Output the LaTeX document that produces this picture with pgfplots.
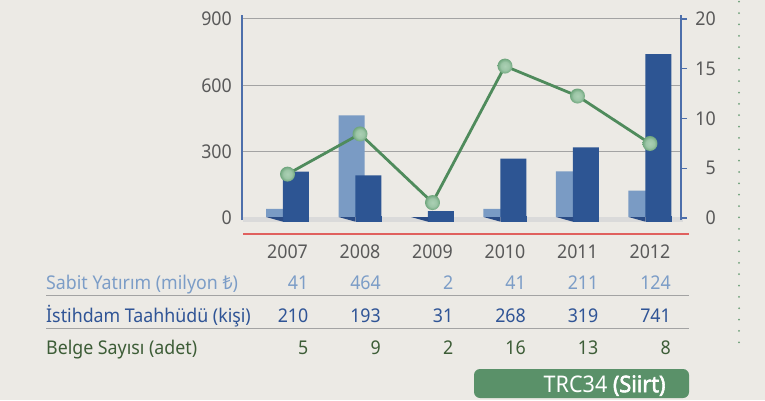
\documentclass[border=0pt]{standalone}
\usepackage{fontspec}
\setmainfont{Noto Sans}[FakeStretch=0.94, BoldFont={Noto Sans}, BoldFeatures={FakeBold=2.5}]
\usepackage{pgfplots}
\pgfplotsset{compat=1.18}

\definecolor{bg}{HTML}{ECEAE5}
\definecolor{lightbar}{HTML}{7A9BC4}
\definecolor{darkbar}{HTML}{2D5593}
\definecolor{shadowbar}{HTML}{2A4B84}
\definecolor{axisblue}{HTML}{4D6FAB}
\definecolor{gridgray}{HTML}{A3A3A3}
\definecolor{floorgray}{HTML}{DADADA}
\definecolor{linegreen}{HTML}{4F8B5C}
\definecolor{markin}{HTML}{ABD0B4}
\definecolor{markout}{HTML}{6FA67D}
\definecolor{redline}{HTML}{E0605E}
\definecolor{txtgray}{HTML}{595959}
\definecolor{rowlight}{HTML}{7C9DC7}
\definecolor{rowdark}{HTML}{2F5496}
\definecolor{rowgreen}{HTML}{3D5D37}
\definecolor{boxgreen}{HTML}{5A9169}
\definecolor{dotgreen}{HTML}{6E9F78}

% soft green ball for the markers
\pgfdeclareradialshading{glow}{\pgfpoint{0bp}{0bp}}{color(0bp)=(markin); color(14bp)=(markin!75!markout); color(25bp)=(markout); color(50bp)=(markout)}
\pgfdeclareplotmark{glow}{%
  \pgfpathcircle{\pgfpointorigin}{\pgfplotmarksize}%
  \pgfshadepath{glow}{0}%
  \pgfusepath{discard}}

\begin{document}
\begin{tikzpicture}[x=1bp, y=1bp, font=\fontsize{19}{22}\selectfont]
\fill[bg] (0,0) rectangle (765,400);

% bars, left axis
\begin{axis}[
  at={(242bp,182bp)}, anchor=south west,
  scale only axis, width=439bp, height=199bp,
  xmin=-0.6276, xmax=5.428, ymin=0, ymax=900,
  axis x line*=bottom, x axis line style={draw=none},
  xtick={0,...,5}, xticklabels={2007,2008,2009,2010,2011,2012},
  xtick style={draw=none},
  xticklabel style={anchor=center, inner sep=0pt, yshift=-34bp, text=txtgray},
  axis y line*=left,
  y axis line style={axisblue, line width=1.3bp, shorten <=-2bp, shorten >=-4bp},
  ytick={0,300,600,900}, ytick style={draw=none},
  yticklabel style={anchor=east, inner sep=0pt, xshift=-10bp, text=txtgray},
  ymajorgrids, grid style={gridgray, line width=1bp},
  /pgf/number format/assume math mode=true,
  clip=false,
]
\addplot[ybar, bar width=0.359, bar shift=-0.117, fill=lightbar, draw=none]
  coordinates {(0,41) (1,464) (2,2) (3,41) (4,211) (5,124)};
\addplot[ybar, bar width=0.359, bar shift=0.117, fill=darkbar, draw=none]
  coordinates {(0,210) (1,193) (2,31) (3,268) (4,319) (5,741)};
\end{axis}

% floor and bar feet
\fill[floorgray] (243,178.3) rectangle (683,183);
\foreach \cx in {287.5,360,432.5,505,577.5,650}{
  \fill[darkbar] (\cx-4.5,178.3) rectangle (\cx+21.5,183.6);
  \fill[shadowbar] (\cx-21.5,183) -- (\cx-4.5,183) -- (\cx-4.5,178.3) -- cycle;
}

% line, right axis
\begin{axis}[
  at={(242bp,182bp)}, anchor=south west,
  scale only axis, width=439bp, height=199bp,
  xmin=-0.6276, xmax=5.428, ymin=0, ymax=20,
  axis x line=none,
  axis y line*=right,
  y axis line style={axisblue, line width=1.3bp, shorten <=-2bp, shorten >=-4bp},
  ytick={0,5,10,15,20}, tick align=outside, major tick length=6bp,
  ytick style={axisblue, line width=1.3bp},
  yticklabel style={anchor=east, inner sep=0pt, xshift=29bp, text=txtgray},
  /pgf/number format/assume math mode=true,
  clip=false,
]
\addplot[linegreen, line width=2.8bp, mark=glow, mark size=7.5bp]
  coordinates {(0,4.41) (1,8.45) (2,1.55) (3,15.27) (4,12.26) (5,7.49)};
\end{axis}

\draw[redline, line width=1.3bp] (243,166) -- (689,166);

% data table under the chart
\node[anchor=base west, inner sep=0pt, text=rowlight] at (46,110.5) {Sabit Yatırım (milyon ₺)};
\node[anchor=base west, inner sep=0pt, text=rowdark] at (46,77.2) {İstihdam Taahhüdü (kişi)};
\node[anchor=base west, inner sep=0pt, text=rowgreen] at (46,45.5) {Belge Sayısı (adet)};
\foreach \cx/\v in {287.5/41,360/464,432.5/2,505/41,577.5/211,650/124}
  \node[anchor=base east, inner sep=0pt, text=rowlight] at (\cx+21,110.5) {\v};
\foreach \cx/\v in {287.5/210,360/193,432.5/31,505/268,577.5/319,650/741}
  \node[anchor=base east, inner sep=0pt, text=rowdark] at (\cx+21,77.2) {\v};
\foreach \cx/\v in {287.5/5,360/9,432.5/2,505/16,577.5/13,650/8}
  \node[anchor=base east, inner sep=0pt, text=rowgreen] at (\cx+21,45.5) {\v};
\draw[gridgray, line width=1bp] (46,104.3) -- (689,104.3);
\draw[gridgray, line width=1bp] (46,71.3) -- (689,71.3);

% region tag
\fill[boxgreen, rounded corners=6bp] (474,2) rectangle (689,31);
\node[anchor=base east, inner sep=0pt, text=white, font=\fontsize{23}{26}\selectfont]
  at (665.7,7.8) {TRC34 \textbf{(Siirt)}};

% dotted margin rule
\draw[dotgreen, line width=2bp, line cap=round, dash pattern=on 0bp off 11.353bp]
  (739,57.7) -- (739,398.3);

\pgfresetboundingbox
\useasboundingbox (0,0) rectangle (765,400);
\end{tikzpicture}
\end{document}
